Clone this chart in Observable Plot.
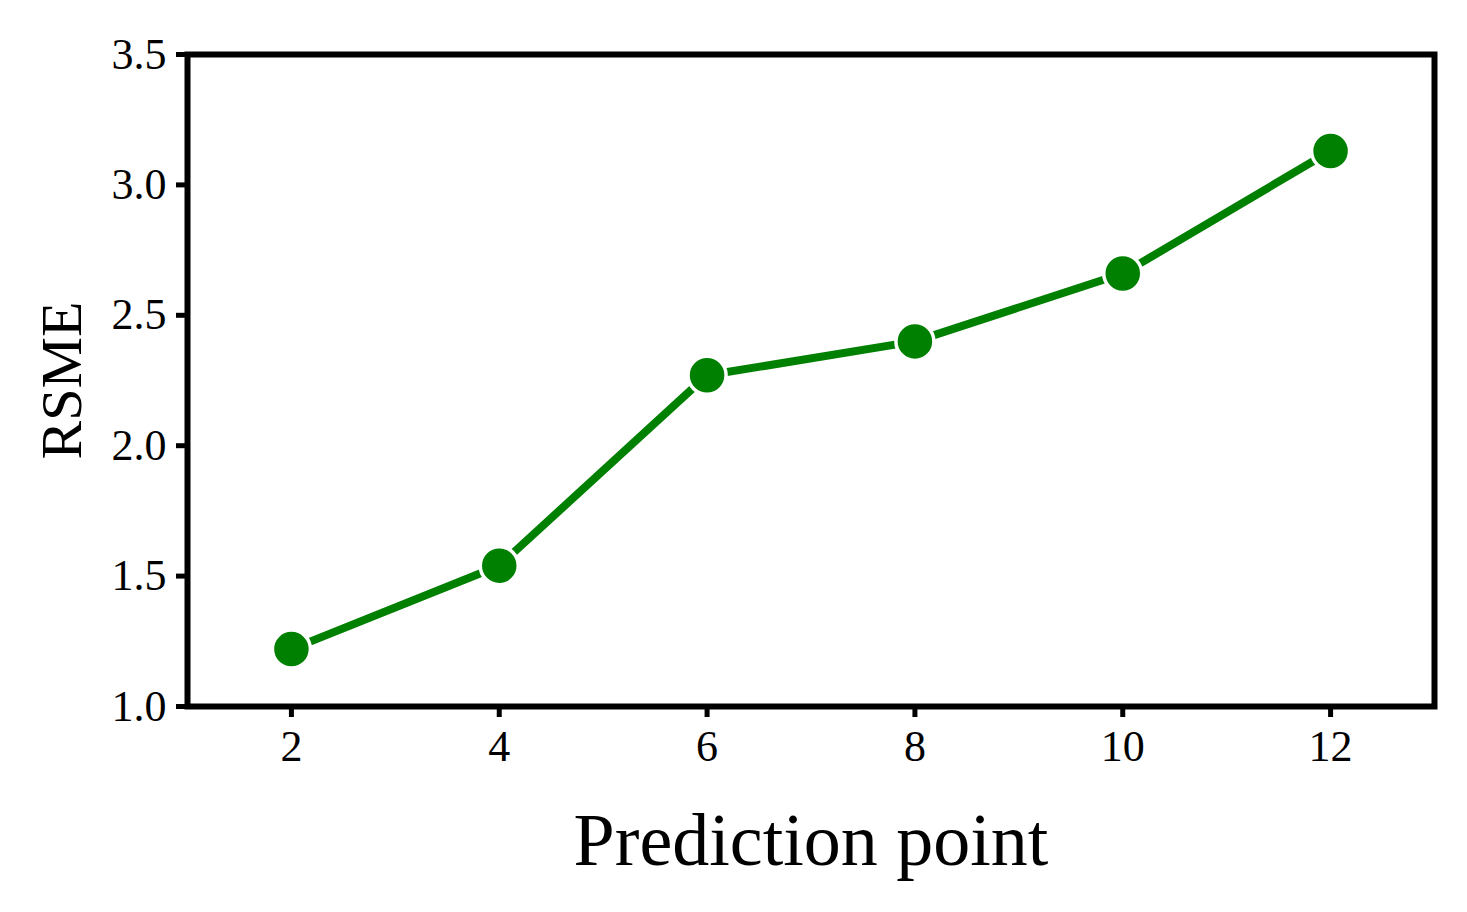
<!DOCTYPE html>
<html>
<head>
<meta charset="utf-8">
<script src="https://cdn.jsdelivr.net/npm/d3@7"></script>
<script src="https://cdn.jsdelivr.net/npm/@observablehq/plot@0.6"></script>
<style>
  html, body { margin: 0; padding: 0; background: #fff; }
  #chart svg { display: block; }
</style>
</head>
<body>
<div id="chart"></div>
<script>
const points = [2, 4, 6, 8, 10, 12];
const rsme = [1.22, 1.54, 2.27, 2.40, 2.66, 3.13];
const xTicks = [2, 4, 6, 8, 10, 12];
const yTicks = [1.0, 1.5, 2.0, 2.5, 3.0, 3.5];
const xLabel = "Prediction point";
const yLabel = "RSME";

const data = points.map((p, i) => ({x: p, y: rsme[i]}));

const chart = Plot.plot({
  width: 1467,
  height: 912,
  marginLeft: 187,
  marginRight: 33,
  marginTop: 54,
  marginBottom: 206,
  style: {fontFamily: "'Liberation Serif', 'Times New Roman', serif", fontSize: "44px", color: "#000", background: "#fff"},
  x: {domain: [1, 13]},
  y: {domain: [1, 3.5]},
  marks: [
    Plot.axisX({ticks: xTicks, tickSize: 11, tickPadding: 12, strokeWidth: 5, fontSize: 44, label: null, tickFormat: d => String(d)}),
    Plot.axisY({ticks: yTicks, tickSize: 11, tickPadding: 10, strokeWidth: 5, fontSize: 44, label: null, tickFormat: d3.format(".1f")}),
    Plot.line(data, {x: "x", y: "y", stroke: "#008000", strokeWidth: 8, strokeLinecap: "round"}),
    Plot.dot(data, {x: "x", y: "y", r: 19, fill: "#008000", stroke: "#fff", strokeWidth: 3.5}),
    Plot.frame({stroke: "#000", strokeWidth: 6}),
    Plot.text([xLabel], {frameAnchor: "bottom", dy: 135, fontSize: 74, fill: "#000", lineAnchor: "middle"}),
    Plot.text([yLabel], {frameAnchor: "left", dx: -125, rotate: -90, fontSize: 58, fill: "#000", textAnchor: "middle", lineAnchor: "middle"})
  ]
});
document.getElementById("chart").appendChild(chart);
</script>
</body>
</html>
